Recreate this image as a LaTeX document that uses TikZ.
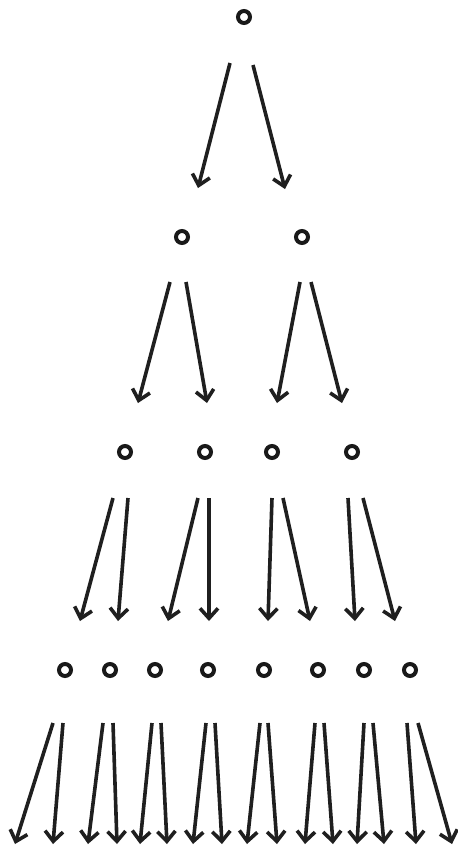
\documentclass[tikz,border=0pt]{standalone}
\usetikzlibrary{arrows.meta}
\begin{document}
\begin{tikzpicture}[x=0.5pt,y=-0.5pt,
  ring/.style={circle,draw=black!90,line width=2pt,minimum size=6pt,inner sep=0pt},
  arr/.style={draw=black!88,line width=1.8pt,-{Straight Barb[length=5pt,width=9pt,line width=1.8pt]}}]
\useasboundingbox (0,0) rectangle (457,852);
% level 0
\node[ring] (r0) at (244,17) {};
% level 1
\node[ring] (r1a) at (182,237) {};
\node[ring] (r1b) at (302,237) {};
% level 2
\node[ring] (r2a) at (125,452) {};
\node[ring] (r2b) at (205,452) {};
\node[ring] (r2c) at (272,452) {};
\node[ring] (r2d) at (352,452) {};
% level 3
\node[ring] (r3a) at (65,670) {};
\node[ring] (r3b) at (110,670) {};
\node[ring] (r3c) at (155,670) {};
\node[ring] (r3d) at (208,670) {};
\node[ring] (r3e) at (264,670) {};
\node[ring] (r3f) at (318,670) {};
\node[ring] (r3g) at (364,670) {};
\node[ring] (r3h) at (410,670) {};
% arrows level 0
\coordinate (s0a) at (230,63); \coordinate (e0a) at (198,188);
\coordinate (s0b) at (253,65); \coordinate (e0b) at (285,189);
\draw[arr] (s0a) -- (e0a);
\draw[arr] (s0b) -- (e0b);
% arrows level 1
\coordinate (s1a) at (170,282); \coordinate (e1a) at (138,403);
\coordinate (s1b) at (186,282); \coordinate (e1b) at (207,403);
\coordinate (s1c) at (300,282); \coordinate (e1c) at (277,403);
\coordinate (s1d) at (311,282); \coordinate (e1d) at (342,403);
\foreach \i in {a,b,c,d} \draw[arr] (s1\i) -- (e1\i);
% arrows level 2
\coordinate (s2a) at (113,498); \coordinate (e2a) at (80,621);
\coordinate (s2b) at (128,498); \coordinate (e2b) at (118,621);
\coordinate (s2c) at (198,498); \coordinate (e2c) at (168,621);
\coordinate (s2d) at (209,498); \coordinate (e2d) at (209,621);
\coordinate (s2e) at (272,498); \coordinate (e2e) at (268,621);
\coordinate (s2f) at (283,498); \coordinate (e2f) at (310,621);
\coordinate (s2g) at (348,498); \coordinate (e2g) at (355,621);
\coordinate (s2h) at (363,498); \coordinate (e2h) at (395,621);
\foreach \i in {a,b,c,d,e,f,g,h} \draw[arr] (s2\i) -- (e2\i);
% arrows level 3
\coordinate (s3a) at (53,723);  \coordinate (e3a) at (15,844);
\coordinate (s3b) at (63,723);  \coordinate (e3b) at (53,844);
\coordinate (s3c) at (103,723); \coordinate (e3c) at (88,844);
\coordinate (s3d) at (113,723); \coordinate (e3d) at (117,844);
\coordinate (s3e) at (152,723); \coordinate (e3e) at (140,844);
\coordinate (s3f) at (161,723); \coordinate (e3f) at (167,844);
\coordinate (s3g) at (206,723); \coordinate (e3g) at (193,844);
\coordinate (s3h) at (215,723); \coordinate (e3h) at (222,844);
\coordinate (s3i) at (260,723); \coordinate (e3i) at (247,844);
\coordinate (s3j) at (268,723); \coordinate (e3j) at (277,844);
\coordinate (s3k) at (315,723); \coordinate (e3k) at (305,844);
\coordinate (s3l) at (324,723); \coordinate (e3l) at (333,844);
\coordinate (s3m) at (364,723); \coordinate (e3m) at (357,844);
\coordinate (s3n) at (373,723); \coordinate (e3n) at (384,844);
\coordinate (s3o) at (407,723); \coordinate (e3o) at (416,844);
\coordinate (s3p) at (418,723); \coordinate (e3p) at (452,844);
\foreach \i in {a,b,c,d,e,f,g,h,i,j,k,l,m,n,o,p} \draw[arr] (s3\i) -- (e3\i);
\end{tikzpicture}
\end{document}
